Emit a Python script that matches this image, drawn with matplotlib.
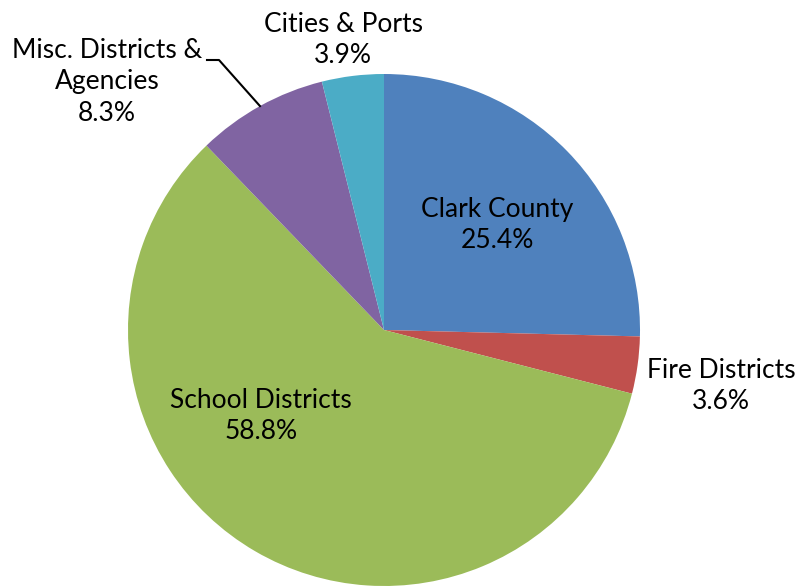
import numpy as np
import matplotlib.pyplot as plt

plt.rcParams['font.family'] = ['Lato', 'DejaVu Sans']

labels = ["Clark County", "Fire Districts", "School Districts",
          "Misc. Districts &\nAgencies", "Cities & Ports"]
shares = [25.4, 3.6, 58.8, 8.3, 3.9]
colors = ["#4F81BD", "#C0504D", "#9BBB59", "#8064A2", "#4BACC6"]

# label centres in pixel coords (from bottom-left)
label_pos = [(497, 361), (721, 200), (261, 170), (107, 504), (343, 546)]

W, H = 801, 586
fig = plt.figure(figsize=(W / 100, H / 100), dpi=100)
ax = fig.add_axes([0, 0, 1, 1])

cx, cy, r = 384, 256, 256
wedges, _ = ax.pie(shares, colors=colors, startangle=90, counterclock=False,
                   center=(cx, cy), radius=r, frame=True)
ax.set_xlim(0, W)
ax.set_ylim(0, H)
ax.set_aspect('equal')
ax.axis('off')

for lab, val, (x, y) in zip(labels, shares, label_pos):
    ax.text(x, y, f"{lab}\n{val:.1f}%", ha='center', va='center',
            fontsize=19, linespacing=1.33, color='black')

# leader line for the misc wedge
w = wedges[3]
mid = np.deg2rad((w.theta1 + w.theta2) / 2)
ex, ey = cx + r * np.cos(mid), cy + r * np.sin(mid)
ax.plot([207, 219, ex], [526, 526, ey], color='black', lw=1.5)

fig.savefig("out.png", dpi=100)
